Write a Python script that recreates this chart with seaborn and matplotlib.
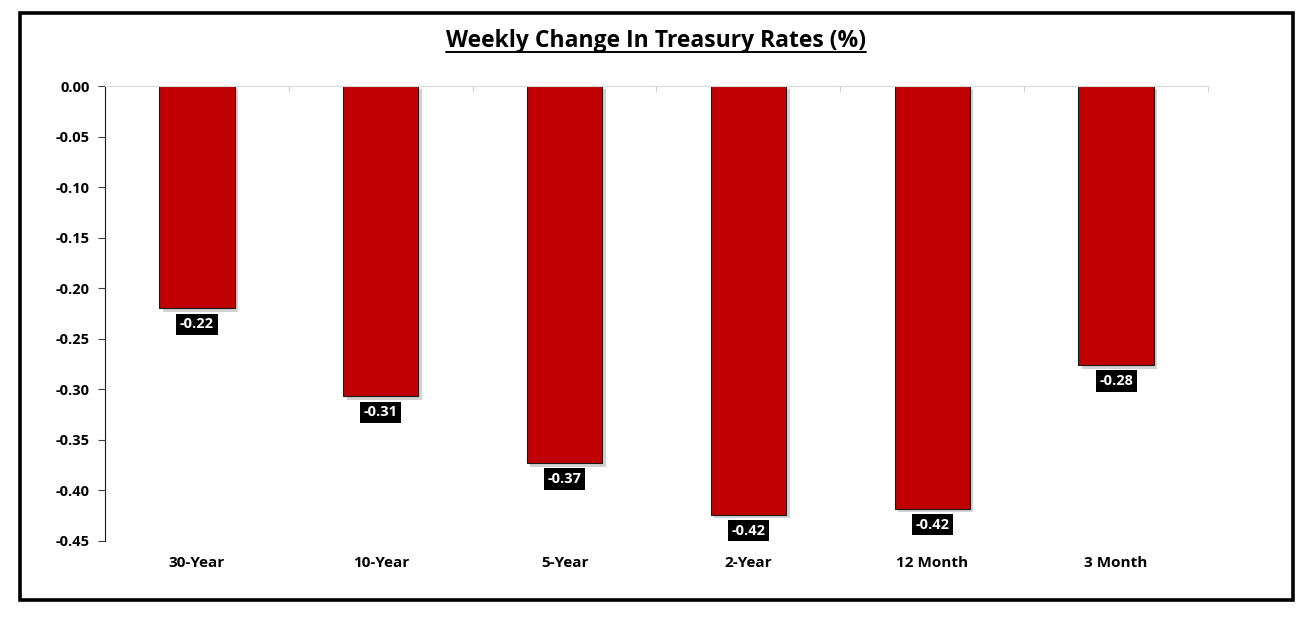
import matplotlib
matplotlib.use("Agg")
import matplotlib.pyplot as plt
import matplotlib.patheffects as pe
from matplotlib.lines import Line2D
from matplotlib.patches import Rectangle
import seaborn as sns
import pandas as pd
import numpy as np

categories = ["30-Year", "10-Year", "5-Year", "2-Year", "12 Month", "3 Month"]
changes = [-0.22, -0.307, -0.373, -0.424, -0.418, -0.276]
label_texts = ["-0.22", "-0.31", "-0.37", "-0.42", "-0.42", "-0.28"]
yticks = [0.00, -0.05, -0.10, -0.15, -0.20, -0.25, -0.30, -0.35, -0.40, -0.45]

df = pd.DataFrame({"maturity": categories, "change": changes})

sns.set_theme(style="white")
plt.rcParams["font.family"] = ["Open Sans", "DejaVu Sans"]
plt.rcParams["xtick.color"] = "black"
plt.rcParams["ytick.color"] = "black"
plt.rcParams["xtick.labelcolor"] = "black"
plt.rcParams["ytick.labelcolor"] = "black"

W, H = 1315, 627
fig = plt.figure(figsize=(W / 100, H / 100), dpi=100)
fig.patch.set_facecolor("white")

ax = fig.add_axes([105 / W, 1 - 541 / H, (1208 - 105) / W, (541 - 86) / H])
sns.barplot(data=df, x="maturity", y="change", color="#C00000", width=0.41,
            edgecolor="#1a1a1a", linewidth=0.8, saturation=1, ax=ax)

for p in ax.patches:
    p.set_path_effects([pe.SimplePatchShadow(offset=(2.5, -2.5), shadow_rgbFace="#808080", alpha=0.35),
                        pe.Normal()])

ax.set_ylim(-0.45, 0)
ax.set_xlim(-0.5, len(categories) - 0.5)
ax.set_yticks(yticks)
ax.set_yticklabels([f"{v:.2f}" for v in yticks], fontweight="bold", fontsize=10.5, color="black")
ax.set_xlabel("")
ax.set_ylabel("")
ax.tick_params(axis="x", length=0, pad=11)
for lbl in ax.get_xticklabels():
    lbl.set_fontweight("bold")
    lbl.set_fontsize(11)
    lbl.set_color("black")
ax.tick_params(axis="y", length=5, width=0.8, color="#404040", direction="out", left=True, pad=6)

ax.set_xticks(np.arange(len(categories) + 1) - 0.5, minor=True)
ax.tick_params(axis="x", which="minor", top=True, bottom=False, direction="in",
               length=4, color="#d0d0d0", width=0.8)

for s in ["right", "bottom"]:
    ax.spines[s].set_visible(False)
ax.spines["top"].set_color("#d9d9d9")
ax.spines["top"].set_linewidth(0.8)
ax.spines["left"].set_color("#1a1a1a")
ax.spines["left"].set_linewidth(0.8)

for i, (v, t) in enumerate(zip(changes, label_texts)):
    ax.annotate(t, xy=(i, v), xytext=(0, -11.5), textcoords="offset points",
                ha="center", va="center", color="white", fontweight="bold", fontsize=10.5,
                bbox=dict(boxstyle="square,pad=0.25", facecolor="black", edgecolor="none"))

title = fig.text(656 / W, 1 - 41 / H, "Weekly Change In Treasury Rates (%)", ha="center", va="center",
                 fontsize=16.5, fontweight="bold", color="black")

fig.canvas.draw()
bb = title.get_window_extent()
uy = bb.y0 + 1
fig.add_artist(Line2D([bb.x0 / W, bb.x1 / W], [uy / H, uy / H], color="black", linewidth=1.4,
                      transform=fig.transFigure))

fig.add_artist(Rectangle((20 / W, 1 - 600 / H), (1293 - 20) / W, (600 - 13) / H,
                         transform=fig.transFigure, fill=False, edgecolor="black", linewidth=2.6))

fig.savefig("out.png", dpi=100, facecolor="white")
